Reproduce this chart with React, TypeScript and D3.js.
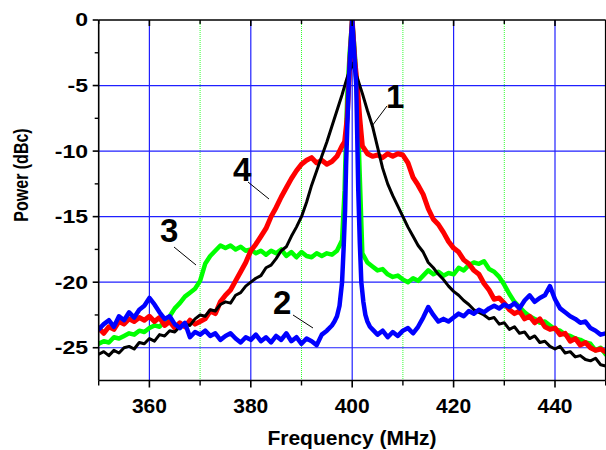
import React from 'react';
import * as d3 from 'd3';

// spectra: [frequency MHz, power dBc]
const curve1: [number, number][] = [
  [350, -25.5], [351, -25.3], [352, -25.6], [353, -25.2], [354, -25.4], [355, -25.0], [356, -24.9], [357, -25.1], [358, -24.6], [359, -24.7],
  [360, -24.3], [361, -24.5], [362, -24.0], [363, -24.1], [364, -23.7], [365, -23.8], [366, -23.4], [367, -23.2], [368, -23.3], [369, -22.8],
  [370, -22.5], [371, -22.6], [372, -22.1], [373, -22.2], [374, -21.7], [375, -21.5], [376, -21.6], [377, -21.0], [378, -20.8], [379, -20.3],
  [380, -20.0], [381, -19.7], [382, -19.5], [383, -18.9], [384, -18.7], [385, -18.2], [386, -17.6], [387, -17.3], [388, -16.5], [389, -15.8],
  [390, -15.0], [391, -13.9], [392, -12.6], [393, -11.5], [394, -10.4], [395, -9.3], [396, -8.1], [397, -6.9], [398, -5.7], [399, -4.4],
  [400, -3.3], [401, -4.4], [402, -5.6], [403, -6.9], [404, -8.1], [405, -9.7], [406, -11.3], [407, -12.5], [408, -13.4], [409, -14.2],
  [410, -15.0], [411, -15.8], [412, -16.5], [413, -17.2], [414, -17.7], [415, -18.5], [416, -18.9], [417, -19.4], [418, -19.8], [419, -20.3],
  [420, -20.7], [421, -21.0], [422, -21.4], [423, -21.7], [424, -22.1], [425, -22.3], [426, -22.5], [427, -22.8], [428, -22.7], [429, -23.2],
  [430, -23.1], [431, -23.6], [432, -23.4], [433, -23.9], [434, -23.8], [435, -24.3], [436, -24.1], [437, -24.6], [438, -24.5], [439, -24.9],
  [440, -25.1], [441, -24.9], [442, -25.4], [443, -25.3], [444, -25.7], [445, -25.6], [446, -25.9], [447, -26.0], [448, -25.8], [449, -26.3], [450, -26.4],
];

const curve2: [number, number][] = [
  [350, -23.6], [351, -23.2], [352, -22.9], [353, -23.4], [354, -22.6], [355, -22.9], [356, -22.3], [357, -22.7], [358, -22.1], [359, -21.8],
  [360, -21.2], [361, -21.7], [362, -22.3], [363, -22.8], [364, -22.6], [365, -23.2], [366, -23.5], [367, -23.1], [368, -24.2], [369, -23.8],
  [370, -24.0], [371, -23.7], [372, -24.1], [373, -23.9], [374, -24.4], [375, -24.1], [376, -23.9], [377, -24.3], [378, -24.6], [379, -24.2],
  [380, -24.4], [381, -24.0], [382, -24.5], [383, -24.2], [384, -24.6], [385, -24.1], [386, -24.4], [387, -23.9], [388, -24.5], [389, -24.2],
  [390, -24.7], [391, -24.3], [392, -24.5], [393, -24.8], [394, -24.0], [395, -23.7], [396, -23.3], [396.5, -23.0], [397, -22.6], [397.5, -21.8],
  [398, -20.0], [398.3, -17.5], [398.6, -14.5], [398.8, -11.0], [399, -8.5], [399.3, -5.0], [399.6, -2.5], [400, 0],
  [400.4, -2.5], [400.8, -5.0], [401, -9.0], [401.2, -13.0], [401.5, -17.0], [401.8, -20.0], [402.2, -21.5], [402.6, -22.5], [403, -23.0], [403.5, -23.4],
  [404, -23.6], [405, -24.0], [406, -23.7], [407, -24.2], [408, -23.8], [409, -24.1],
  [410, -23.7], [411, -23.5], [412, -23.9], [413, -23.4], [414, -22.7], [415, -21.9], [416, -22.5], [417, -23.0], [418, -22.8], [419, -23.0],
  [420, -22.7], [421, -22.4], [422, -22.6], [423, -22.2], [424, -22.4], [425, -22.1], [426, -22.3], [427, -22.0], [428, -21.8], [429, -22.0],
  [430, -21.7], [431, -21.9], [432, -21.6], [433, -22.0], [434, -21.4], [435, -21.0], [436, -21.5], [437, -21.2], [438, -21.0], [439, -20.3],
  [440, -21.3], [441, -22.0], [442, -22.3], [443, -22.6], [444, -22.8], [445, -23.1], [446, -23.0], [447, -23.5], [448, -23.7], [449, -24.0], [450, -23.9],
];

const curve3: [number, number][] = [
  [350, -24.7], [351, -24.5], [352, -24.6], [353, -24.2], [354, -24.3], [355, -24.1], [356, -23.9], [357, -24.0], [358, -23.7], [359, -23.8],
  [360, -23.5], [361, -23.3], [362, -23.4], [363, -23.0], [364, -22.6], [365, -22.0], [366, -21.6], [367, -21.1], [368, -20.8], [369, -20.5],
  [370, -19.9], [371, -18.6], [372, -18.0], [373, -17.6], [374, -17.2], [375, -17.4], [376, -17.2], [377, -17.5], [378, -17.3], [379, -17.6],
  [380, -17.5], [381, -17.8], [382, -17.6], [383, -17.9], [384, -17.6], [385, -17.8], [386, -17.5], [387, -18.0], [388, -17.7], [389, -18.1],
  [390, -17.7], [391, -18.0], [392, -18.1], [393, -17.8], [394, -18.0], [395, -17.8], [396, -17.9], [397, -17.6], [398, -16.8],
  [398.5, -13.0], [399, -6.0], [399.5, -2.5], [400, 0], [400.5, -2.5], [401, -6.0], [401.5, -12.0], [402, -17.8],
  [403, -18.5], [404, -18.8], [405, -19.1], [406, -19.0], [407, -19.4], [408, -19.6], [409, -19.5],
  [410, -19.8], [411, -20.0], [412, -19.7], [413, -19.9], [414, -19.5], [415, -19.1], [416, -19.4], [417, -19.2], [418, -19.5], [419, -19.3],
  [420, -19.4], [421, -18.9], [422, -19.1], [423, -18.7], [424, -18.5], [425, -18.6], [426, -18.4], [427, -19.0], [428, -19.2], [429, -19.6],
  [430, -20.2], [431, -20.9], [432, -21.5], [433, -21.9], [434, -22.3], [435, -22.6], [436, -22.8], [437, -23.1], [438, -23.0], [439, -23.3],
  [440, -23.6], [441, -23.7], [442, -24.0], [443, -24.1], [444, -24.3], [445, -24.4], [446, -24.6], [447, -24.7], [448, -25.2], [449, -25.0], [450, -25.5],
];

const curve4: [number, number][] = [
  [350, -23.5], [351, -23.9], [352, -23.4], [353, -23.6], [354, -23.0], [355, -23.2], [356, -22.8], [357, -23.0], [358, -22.7], [359, -22.9],
  [360, -22.6], [361, -23.0], [362, -22.7], [363, -23.3], [364, -23.0], [365, -23.5], [366, -23.1], [367, -23.4], [368, -22.9], [369, -23.2],
  [370, -23.0], [371, -22.8], [372, -22.2], [373, -22.4], [374, -21.5], [375, -21.0], [376, -20.6], [377, -19.9], [378, -19.2], [379, -18.5],
  [380, -17.6], [381, -17.1], [382, -16.5], [383, -15.9], [384, -15.0], [385, -14.3], [386, -13.5], [387, -12.8], [388, -12.1], [389, -11.5],
  [390, -11.0], [391, -10.7], [392, -10.5], [393, -10.9], [394, -10.7], [395, -11.0], [396, -10.8], [397, -10.4], [398, -9.6],
  [398.5, -9.3], [399, -7.5], [399.5, -3.5], [400, 0], [400.5, -3.0], [401, -5.0], [401.5, -7.5], [402, -9.6],
  [403, -10.2], [404, -10.4], [405, -10.3], [406, -10.5], [407, -10.2], [408, -10.4], [409, -10.2],
  [410, -10.3], [411, -10.9], [412, -12.0], [413, -12.6], [414, -13.3], [415, -14.4], [416, -15.2], [417, -15.6], [418, -16.2], [419, -16.9],
  [420, -17.4], [421, -17.7], [422, -18.3], [423, -18.6], [424, -19.1], [425, -19.4], [426, -20.1], [427, -20.6], [428, -21.3], [429, -21.2],
  [430, -21.6], [431, -22.1], [432, -22.4], [433, -22.2], [434, -22.8], [435, -22.6], [436, -23.1], [437, -22.8], [438, -23.4], [439, -23.6],
  [440, -23.5], [441, -24.0], [442, -23.9], [443, -24.5], [444, -24.3], [445, -24.8], [446, -24.6], [447, -25.0], [448, -25.2], [449, -25.1], [450, -25.3],
];

const xTickLabels = [360, 380, 400, 420, 440];
const xMinorTicks = [350, 370, 390, 410, 430, 450];
const xGridMinor = [370, 390, 410, 430];
const yTickLabels = [0, -5, -10, -15, -20, -25];
const yMinorTicks = [-2.5, -7.5, -12.5, -17.5, -22.5];

const FONT = "'Liberation Sans', Arial, sans-serif";

export default function App() {
  const left = 98.7, right = 605.7, top = 20, bottom = 380.5;
  const x = d3.scaleLinear().domain([350, 450]).range([left, right]);
  const y = d3.scaleLinear().domain([-27.5, 0]).range([bottom, top]);
  const line = d3.line<[number, number]>().x(d => x(d[0])).y(d => y(d[1]));

  // drawing order: green, red, black, blue
  const series = [
    { data: curve3, color: '#00ff00', w: 4.5 },
    { data: curve4, color: '#ff0000', w: 5 },
    { data: curve1, color: '#000000', w: 3 },
    { data: curve2, color: '#0000ff', w: 4.5 },
  ];

  const labels = [
    { t: '1', f: 408.5, v: -6.7, from: [387, 106], to: [372, 126] },
    { t: '4', f: 378.3, v: -12.3, from: [248, 182], to: [269, 199] },
    { t: '3', f: 363.9, v: -16.9, from: [174, 247], to: [196, 265] },
    { t: '2', f: 386.2, v: -22.4, from: [293, 315], to: [313, 328] },
  ];

  return (
    <svg width={606} height={450} style={{ position: 'absolute', left: 0, top: 0, background: '#fff' }}
      fontFamily={FONT} fontWeight="bold">
      <defs>
        <clipPath id="plot">
          <rect x={left} y={top} width={right - left} height={bottom - top} />
        </clipPath>
      </defs>

      {/* grid */}
      {xGridMinor.map(v => (
        <line key={'gm' + v} x1={x(v)} x2={x(v)} y1={top} y2={bottom} stroke="#33ff33" strokeWidth={1} strokeDasharray="1,1" />
      ))}
      {xTickLabels.map(v => (
        <line key={'gx' + v} x1={x(v)} x2={x(v)} y1={top} y2={bottom} stroke="#2020ff" strokeWidth={1.2} />
      ))}
      {yTickLabels.filter(v => v !== 0).map(v => (
        <line key={'gy' + v} x1={left} x2={right} y1={y(v)} y2={y(v)} stroke="#2020ff" strokeWidth={1.2} />
      ))}

      {/* curves */}
      <g clipPath="url(#plot)">
        {series.map((s, i) => (
          <path key={i} d={line(s.data) ?? ''} fill="none" stroke={s.color} strokeWidth={s.w}
            strokeLinejoin="round" strokeLinecap="round" />
        ))}
      </g>

      {/* frame */}
      <line x1={left} x2={right} y1={top} y2={top} stroke="#000" strokeWidth={1.6} />
      <line x1={left} x2={right} y1={bottom} y2={bottom} stroke="#000" strokeWidth={1.6} />
      <line x1={left} x2={left} y1={top} y2={bottom} stroke="#000" strokeWidth={1.6} />
      <line x1={right} x2={right} y1={top} y2={bottom} stroke="#000" strokeWidth={1.6} />

      {/* x ticks */}
      {xTickLabels.map(v => (
        <g key={'xt' + v}>
          <line x1={x(v)} x2={x(v)} y1={bottom} y2={bottom + 7} stroke="#000" strokeWidth={1.6} />
          <line x1={x(v)} x2={x(v)} y1={top} y2={top + 6} stroke="#000" strokeWidth={1.6} />
          <text x={x(v)} y={413} textAnchor="middle" fontSize={21}>{v}</text>
        </g>
      ))}
      {xMinorTicks.map(v => (
        <g key={'xm' + v}>
          <line x1={x(v)} x2={x(v)} y1={bottom} y2={bottom + 5} stroke="#000" strokeWidth={1.4} />
          <line x1={x(v)} x2={x(v)} y1={top} y2={top + 4} stroke="#000" strokeWidth={1.4} />
        </g>
      ))}

      {/* y ticks */}
      {yTickLabels.map(v => (
        <g key={'yt' + v}>
          <line x1={left - 6} x2={left} y1={y(v)} y2={y(v)} stroke="#000" strokeWidth={1.6} />
          <text transform={`translate(88,${y(v)}) scale(1.28,1)`} textAnchor="end" dy="0.36em" fontSize={18}>{v}</text>
        </g>
      ))}
      {yMinorTicks.map(v => (
        <line key={'ym' + v} x1={left - 4} x2={left} y1={y(v)} y2={y(v)} stroke="#000" strokeWidth={1.4} />
      ))}

      {/* axis titles */}
      <text x={352} y={445} textAnchor="middle" fontSize={21}>Frequency (MHz)</text>
      <text transform="translate(28,175) rotate(-90) scale(1,1.3)" textAnchor="middle" fontSize={16}>Power (dBc)</text>

      {/* curve labels */}
      {labels.map(l => (
        <g key={'lb' + l.t}>
          <text x={x(l.f)} y={y(l.v)} textAnchor="middle" fontSize={33}>{l.t}</text>
          <line x1={l.from[0]} y1={l.from[1]} x2={l.to[0]} y2={l.to[1]} stroke="#000" strokeWidth={1} />
        </g>
      ))}
    </svg>
  );
}
